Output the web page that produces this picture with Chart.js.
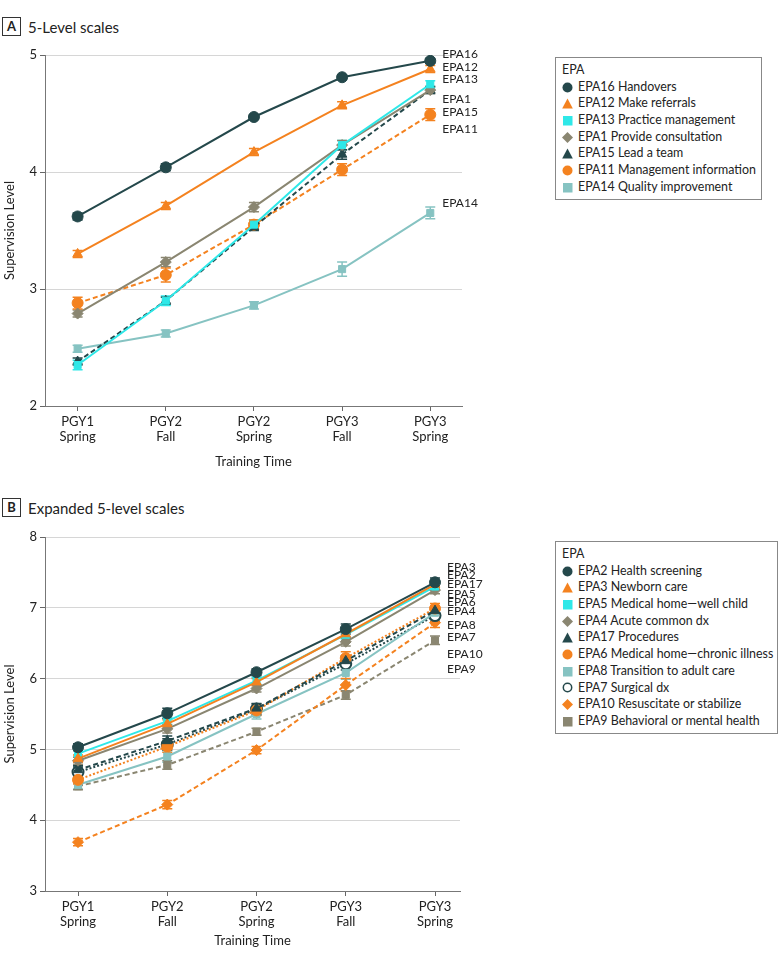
<!DOCTYPE html>
<html>
<head>
<meta charset="utf-8">
<script src="https://cdn.jsdelivr.net/npm/chart.js@4.4.1/dist/chart.umd.min.js"></script>
<style>
  body { margin: 0; background: #fff; font-family: Lato, sans-serif; color: #222; }
  #page { position: relative; width: 783px; height: 961px; overflow: hidden; }
  .panel-title { position: absolute; left: 2px; font-size: 15px; display: flex; align-items: center; }
  .tag { display: inline-block; box-sizing: border-box; border: 1px solid #333; width: 19px; height: 19px;
         line-height: 17px; text-align: center; font-weight: bold; font-size: 13px; margin-right: 7px; }
  .chart { position: absolute; left: 0; width: 783px; }
  .legend { position: absolute; left: 555px; box-sizing: border-box; border: 1px solid #888; background: #fff;
            font-size: 12.4px; padding: 4px 0 3px 0; }
  .legend div { height: 16.7px; line-height: 16.7px; display: flex; align-items: center; white-space: nowrap; }
  .legend .head { padding-left: 6px; }
  .legend svg { margin: 0 5px 0 6px; flex: none; }
</style>
</head>
<body>
<div id="page">
  <div class="panel-title" style="top:17px"><span class="tag">A</span>5-Level scales</div>
  <div class="chart" style="top:40px;height:435px"><canvas id="chartA"></canvas></div>
  <div class="legend" id="legendA" style="top:57px;width:207px"></div>

  <div class="panel-title" style="top:498px"><span class="tag">B</span>Expanded 5-level scales</div>
  <div class="chart" style="top:520px;height:441px"><canvas id="chartB"></canvas></div>
  <div class="legend" id="legendB" style="top:541px;width:223px"></div>
</div>
<script>
// x categories (training time points)
const timeLabels = [['PGY1', 'Spring'], ['PGY2', 'Fall'], ['PGY2', 'Spring'], ['PGY3', 'Fall'], ['PGY3', 'Spring']];

// Panel A: 5-level scales
const aNames = ['EPA16 Handovers', 'EPA12 Make referrals', 'EPA13 Practice management', 'EPA1 Provide consultation',
  'EPA15 Lead a team', 'EPA11 Management information', 'EPA14 Quality improvement'];
const epa16 = [3.62, 4.04, 4.47, 4.81, 4.95];
const epa12 = [3.30, 3.71, 4.17, 4.57, 4.88];
const epa13 = [2.35, 2.90, 3.55, 4.23, 4.75];
const epa1 = [2.79, 3.23, 3.70, 4.23, 4.70];
const epa15 = [2.38, 2.90, 3.53, 4.15, 4.70];
const epa11 = [2.88, 3.12, 3.55, 4.02, 4.49];
const epa14 = [2.49, 2.62, 2.86, 3.17, 3.65];
const epa16Err = [0.03, 0.03, 0.02, 0.02, 0.02];
const epa12Err = [0.03, 0.03, 0.03, 0.03, 0.03];
const epa13Err = [0.04, 0.04, 0.04, 0.04, 0.03];
const epa1Err = [0.03, 0.04, 0.04, 0.04, 0.03];
const epa15Err = [0.03, 0.03, 0.03, 0.04, 0.03];
const epa11Err = [0.05, 0.06, 0.04, 0.05, 0.05];
const epa14Err = [0.03, 0.03, 0.03, 0.06, 0.05];
const aEndLabels = ['EPA16', 'EPA12', 'EPA13', 'EPA1', 'EPA15', 'EPA11', 'EPA14'];
const aEndLabelY = [5.01, 4.90, 4.79, 4.62, 4.51, 4.37, 3.73];

// Panel B: expanded 5-level scales
const bNames = ['EPA2 Health screening', 'EPA3 Newborn care', 'EPA5 Medical home\u2014well child', 'EPA4 Acute common dx',
  'EPA17 Procedures', 'EPA6 Medical home\u2014chronic illness', 'EPA8 Transition to adult care', 'EPA7 Surgical dx',
  'EPA10 Resuscitate or stabilize', 'EPA9 Behavioral or mental health'];
const epa2 = [5.03, 5.51, 6.09, 6.70, 7.36];
const epa3 = [4.87, 5.36, 5.95, 6.63, 7.33];
const epa5 = [4.94, 5.40, 5.97, 6.62, 7.30];
const epa4 = [4.84, 5.29, 5.86, 6.52, 7.25];
const epa17 = [4.71, 5.12, 5.58, 6.25, 6.96];
const epa6 = [4.57, 5.04, 5.55, 6.29, 6.99];
const epa8 = [4.50, 4.90, 5.50, 6.08, 6.93];
const epa7 = [4.68, 5.07, 5.57, 6.21, 6.89];
const epa10 = [3.69, 4.22, 4.99, 5.91, 6.79];
const epa9 = [4.48, 4.78, 5.25, 5.77, 6.54];
const epa2Err = [0.05, 0.07, 0.05, 0.07, 0.06];
const epa3Err = [0.05, 0.06, 0.05, 0.06, 0.05];
const epa5Err = [0.05, 0.06, 0.05, 0.06, 0.05];
const epa4Err = [0.05, 0.06, 0.05, 0.06, 0.05];
const epa17Err = [0.06, 0.07, 0.06, 0.07, 0.06];
const epa6Err = [0.06, 0.08, 0.07, 0.09, 0.07];
const epa8Err = [0.06, 0.08, 0.07, 0.09, 0.07];
const epa7Err = [0.07, 0.08, 0.08, 0.09, 0.08];
const epa10Err = [0.05, 0.06, 0.05, 0.09, 0.07];
const epa9Err = [0.05, 0.06, 0.05, 0.06, 0.06];
const bEndLabels = ['EPA3', 'EPA2', 'EPA17', 'EPA5', 'EPA6', 'EPA4', 'EPA8', 'EPA7', 'EPA10', 'EPA9'];
const bEndLabelY = [7.58, 7.46, 7.33, 7.20, 7.08, 6.95, 6.75, 6.58, 6.34, 6.13];

const DARK = '#24484b', ORANGE = '#f4821f', CYAN = '#2ee8e8', TAUPE = '#8a8671', LTEAL = '#86c3c2';
const SOLID = [], DASH = [5, 3], DOT = [2, 2];

Chart.defaults.font.family = 'Lato, sans-serif';
Chart.defaults.color = '#222';

function series(label, values, err, color, shape, dash, open) {
  return {
    label,
    data: values.map((y, i) => ({ x: i, y })),
    err,
    borderColor: color,
    backgroundColor: color,
    borderWidth: 2,
    borderDash: dash,
    pointStyle: shape,
    pointRadius: shape === 'rect' ? 5 : 5.5,
    pointBackgroundColor: open ? '#fff' : color,
    pointBorderColor: color,
    pointBorderWidth: open ? 2 : 1,
    tension: 0,
    _open: open,
  };
}

// vertical error bars with caps
const errorBars = {
  id: 'errorBars',
  beforeDatasetsDraw(chart) {
    const { ctx, scales: { x, y } } = chart;
    ctx.save();
    chart.data.datasets.forEach((ds) => {
      ctx.strokeStyle = ds.borderColor;
      ctx.lineWidth = 1.5;
      ds.data.forEach((p, i) => {
        const px = x.getPixelForValue(p.x);
        const top = y.getPixelForValue(p.y + ds.err[i]);
        const bot = y.getPixelForValue(p.y - ds.err[i]);
        ctx.beginPath();
        ctx.moveTo(px, top); ctx.lineTo(px, bot);
        ctx.moveTo(px - 5, top); ctx.lineTo(px + 5, top);
        ctx.moveTo(px - 5, bot); ctx.lineTo(px + 5, bot);
        ctx.stroke();
      });
    });
    ctx.restore();
  },
};

// labels to the right of the last time point
const endLabels = {
  id: 'endLabels',
  afterDatasetsDraw(chart, args, opts) {
    const { ctx, scales: { x, y } } = chart;
    ctx.save();
    ctx.font = '12px Lato, sans-serif';
    ctx.fillStyle = '#222';
    ctx.textBaseline = 'middle';
    const px = x.getPixelForValue(timeLabels.length - 1) + 12;
    opts.labels.forEach((t, i) => ctx.fillText(t, px, y.getPixelForValue(opts.values[i])));
    ctx.restore();
  },
};

function makeChart(id, datasets, yMin, yMax, xMax, pad, xHeight, titleBottom, labels, labelY) {
  return new Chart(document.getElementById(id), {
    type: 'line',
    data: { datasets },
    plugins: [errorBars, endLabels],
    options: {
      responsive: true,
      maintainAspectRatio: false,
      animation: false,
      layout: { padding: pad },
      plugins: {
        legend: { display: false },
        tooltip: { enabled: false },
        endLabels: { labels, values: labelY },
      },
      scales: {
        x: {
          type: 'linear',
          min: -0.37,
          max: xMax,
          afterBuildTicks: (s) => { s.ticks = timeLabels.map((_, i) => ({ value: i })); },
          afterFit: (s) => { s.height = xHeight; },
          ticks: {
            callback: (v) => timeLabels[v],
            font: { size: 13, lineHeight: 1.18 },
            color: '#222',
            padding: 3,
            maxRotation: 0,
          },
          grid: { drawOnChartArea: false, tickLength: 5, tickColor: '#666' },
          border: { color: '#777' },
          title: { display: true, text: 'Training Time', font: { size: 13 }, color: '#222', padding: { top: 0, bottom: titleBottom } },
        },
        y: {
          min: yMin,
          max: yMax,
          afterFit: (s) => { s.width = 45; },
          ticks: { stepSize: 1, font: { size: 13 }, color: '#222', padding: 3 },
          grid: { color: '#d6d6d6', tickLength: 5, tickColor: '#666' },
          border: { color: '#777' },
          title: { display: true, text: 'Supervision Level', font: { size: 13 }, color: '#222', padding: { top: 2, bottom: 2 } },
        },
      },
    },
  });
}

function markerSvg(ds) {
  const c = ds.borderColor;
  let shape;
  if (ds.pointStyle === 'circle') {
    shape = ds._open
      ? `<circle cx="5.5" cy="5.5" r="4.2" fill="#fff" stroke="${c}" stroke-width="1.5"/>`
      : `<circle cx="5.5" cy="5.5" r="5" fill="${c}"/>`;
  } else if (ds.pointStyle === 'triangle') {
    shape = `<polygon points="5.5,0.5 10.8,10.5 0.2,10.5" fill="${c}"/>`;
  } else if (ds.pointStyle === 'rect') {
    shape = `<rect x="1" y="1" width="9.5" height="9.5" fill="${c}"/>`;
  } else {
    shape = `<polygon points="5.5,0 11,5.5 5.5,11 0,5.5" fill="${c}"/>`;
  }
  return `<svg width="11" height="11" viewBox="0 0 11 11">${shape}</svg>`;
}

function buildLegend(id, datasets) {
  const el = document.getElementById(id);
  el.innerHTML = '<div class="head">EPA</div>' +
    datasets.map((ds) => `<div>${markerSvg(ds)}<span>${ds.label}</span></div>`).join('');
}

const dsA = [
  series(aNames[0], epa16, epa16Err, DARK, 'circle', SOLID),
  series(aNames[1], epa12, epa12Err, ORANGE, 'triangle', SOLID),
  series(aNames[2], epa13, epa13Err, CYAN, 'rect', SOLID),
  series(aNames[3], epa1, epa1Err, TAUPE, 'rectRot', SOLID),
  series(aNames[4], epa15, epa15Err, DARK, 'triangle', DASH),
  series(aNames[5], epa11, epa11Err, ORANGE, 'circle', DASH),
  series(aNames[6], epa14, epa14Err, LTEAL, 'rect', SOLID),
];

const dsB = [
  series(bNames[0], epa2, epa2Err, DARK, 'circle', SOLID),
  series(bNames[1], epa3, epa3Err, ORANGE, 'triangle', SOLID),
  series(bNames[2], epa5, epa5Err, CYAN, 'rect', SOLID),
  series(bNames[3], epa4, epa4Err, TAUPE, 'rectRot', SOLID),
  series(bNames[4], epa17, epa17Err, DARK, 'triangle', DASH),
  series(bNames[5], epa6, epa6Err, ORANGE, 'circle', DOT),
  series(bNames[6], epa8, epa8Err, LTEAL, 'rect', SOLID),
  series(bNames[7], epa7, epa7Err, DARK, 'circle', DOT, true),
  series(bNames[8], epa10, epa10Err, ORANGE, 'rectRot', DASH),
  series(bNames[9], epa9, epa9Err, TAUPE, 'rect', DASH),
];

makeChart('chartA', dsA, 2, 5, 4.36, { top: 15, right: 321, bottom: 0, left: 0 }, 69, 5, aEndLabels, aEndLabelY);
makeChart('chartB', dsB, 3, 8, 4.28, { top: 17, right: 323, bottom: 0, left: 0 }, 70, 12, bEndLabels, bEndLabelY);
buildLegend('legendA', dsA);
buildLegend('legendB', dsB);
</script>
</body>
</html>
